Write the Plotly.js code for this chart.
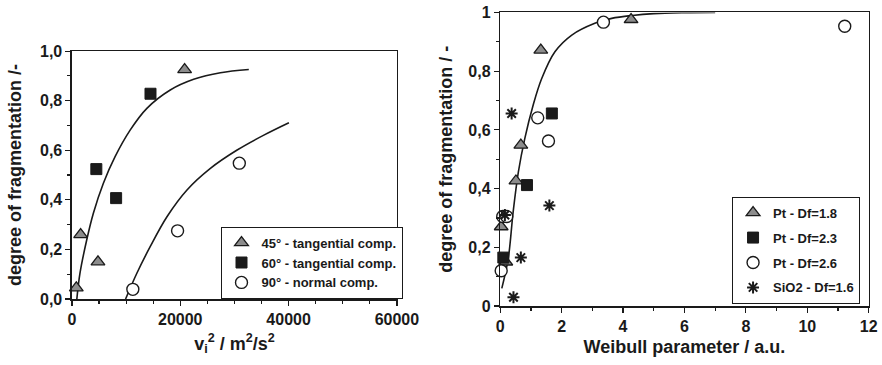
<!DOCTYPE html>
<html>
<head>
<meta charset="utf-8">
<script src="https://cdn.plot.ly/plotly-3.0.1.min.js"></script>
<style>html,body{margin:0;padding:0;background:#fff;}#chart{width:882px;height:365px;}</style>
</head>
<body>
<div id="chart"></div>
<script>
// ---- Left panel data (v_i^2 in m2/s2, degree of fragmentation) ----
const leftNames = ["45° - tangential comp.", "60° - tangential comp.", "90° - normal comp."];
const deg45X = [800, 1600, 4800, 20800];
const deg45Y = [0.045, 0.26, 0.15, 0.925];
const deg60X = [4500, 8150, 14500];
const deg60Y = [0.524, 0.407, 0.828];
const deg90X = [11240, 19500, 30900];
const deg90Y = [0.039, 0.275, 0.548];
// fitted curves
const fitTanX = [900, 1480, 2720, 3950, 5800, 7960, 10740, 13830, 18150, 22470, 27410, 32650];
const fitTanY = [0.0, 0.104, 0.238, 0.346, 0.467, 0.574, 0.681, 0.769, 0.843, 0.886, 0.913, 0.926];
const fitNormX = [9900, 11980, 14440, 17540, 21240, 25560, 30500, 35430, 40060];
const fitNormY = [0.0, 0.104, 0.211, 0.332, 0.44, 0.527, 0.601, 0.661, 0.711];

// ---- Right panel data (Weibull parameter, degree of fragmentation) ----
const rightNames = ["Pt - Df=1.8", "Pt - Df=2.3", "Pt - Df=2.6", "SiO2 - Df=1.6"];
const pt18X = [0.03, 0.18, 0.51, 0.67, 1.32, 4.26];
const pt18Y = [0.27, 0.15, 0.426, 0.548, 0.872, 0.976];
const pt23X = [0.10, 0.87, 1.68];
const pt23Y = [0.165, 0.412, 0.656];
const pt26X = [0.03, 0.08, 0.21, 1.22, 1.57, 3.36, 11.22];
const pt26Y = [0.12, 0.305, 0.305, 0.641, 0.562, 0.967, 0.953];
const sio2X = [0.37, 0.43, 0.67, 1.60, 0.15];
const sio2Y = [0.656, 0.03, 0.165, 0.342, 0.31];
const fitWX = [0.05, 0.26, 0.42, 0.59, 0.80, 1.07, 1.35, 1.78, 2.33, 3.08, 3.63, 4.3, 5.0, 6.0, 7.0];
const fitWY = [0.06, 0.162, 0.321, 0.457, 0.571, 0.684, 0.775, 0.866, 0.923, 0.963, 0.98, 0.99, 0.996, 0.999, 1.0];

const FONT = "Liberation Sans, Arial, sans-serif";
const INK = "#1a1a1a";
const triM = {symbol: "triangle-up", size: 12, color: "#8c8c8c", line: {color: INK, width: 1.3}};
const sqM = {symbol: "square", size: 11, color: INK, line: {color: INK, width: 1}};
const ciM = {symbol: "circle", size: 12, color: "#ffffff", line: {color: INK, width: 1.4}};
const asM = {symbol: "asterisk-open", size: 10, color: INK, line: {color: INK, width: 2}};
const lineStyle = {color: INK, width: 1.6, shape: "spline", smoothing: 1};

function pts(x, y, name, marker, xa, ya, leg, grp) {
  return {x: x, y: y, name: name, mode: "markers", type: "scatter", marker: marker,
          xaxis: xa, yaxis: ya, legend: leg, legendgroup: grp, cliponaxis: false, hoverinfo: "x+y"};
}
function curve(x, y, xa, ya) {
  return {x: x, y: y, mode: "lines", type: "scatter", line: lineStyle, showlegend: false,
          xaxis: xa, yaxis: ya, cliponaxis: true, hoverinfo: "skip"};
}

const data = [
  curve(fitTanX, fitTanY, "x", "y"),
  curve(fitNormX, fitNormY, "x", "y"),
  pts(deg45X, deg45Y, leftNames[0], triM, "x", "y", "legend", "a"),
  pts(deg60X, deg60Y, leftNames[1], sqM, "x", "y", "legend", "b"),
  pts(deg90X, deg90Y, leftNames[2], ciM, "x", "y", "legend", "c"),
  curve(fitWX, fitWY, "x2", "y2"),
  pts(pt18X, pt18Y, rightNames[0], triM, "x2", "y2", "legend2", "d"),
  pts(pt23X, pt23Y, rightNames[1], sqM, "x2", "y2", "legend2", "e"),
  pts(pt26X, pt26Y, rightNames[2], ciM, "x2", "y2", "legend2", "f"),
  pts(sio2X, sio2Y, rightNames[3], asM, "x2", "y2", "legend2", "g")
];

const tickFont = {family: FONT, size: 16, color: "#1a1a1a", weight: "bold"};
const titleFont = {family: FONT, size: 18, color: "#1a1a1a", weight: "bold"};
function axis(extra) {
  return Object.assign({
    showline: true, mirror: true, linecolor: INK, linewidth: 1.5,
    showgrid: false, zeroline: false, ticks: "outside", ticklen: 5, tickwidth: 1.2, tickcolor: INK,
    tickfont: tickFont, fixedrange: true
  }, extra);
}

const layout = {
  width: 882, height: 365,
  margin: {l: 0, r: 0, t: 0, b: 0},
  paper_bgcolor: "#ffffff", plot_bgcolor: "#ffffff",
  separators: ",.",
  showlegend: true,
  font: {family: FONT, color: "#1a1a1a"},
  xaxis: axis({domain: [0.0816, 0.450], range: [0, 60000], dtick: 20000, tick0: 0, tickformat: "d",
    minor: {dtick: 5000, tick0: 0, ticklen: 3, ticks: "outside", tickcolor: INK},
    anchor: "y",
    title: {text: "v<sub>i</sub><sup>2</sup> / m<sup>2</sup>/s<sup>2</sup>", font: titleFont, standoff: 10}}),
  yaxis: axis({domain: [0.1808, 0.860], range: [0, 1], dtick: 0.2, tick0: 0, tickformat: ".1f",
    minor: {dtick: 0.1, tick0: 0, ticklen: 3, ticks: "outside", tickcolor: INK},
    anchor: "x",
    title: {text: "degree of fragmentation /-", font: titleFont, standoff: 13}}),
  xaxis2: axis({domain: [0.5672, 0.9849], range: [0, 12], dtick: 2, tick0: 0,
    minor: {dtick: 1, tick0: 0, ticklen: 3, ticks: "outside", tickcolor: INK},
    anchor: "y2",
    title: {text: "Weibull parameter / a.u.", font: titleFont, standoff: 6}}),
  yaxis2: axis({domain: [0.1616, 0.9658], range: [0, 1], dtick: 0.2, tick0: 0,
    minor: {dtick: 0.1, tick0: 0, ticklen: 3, ticks: "outside", tickcolor: INK},
    anchor: "x2",
    title: {text: "degree of fragmentation / -", font: titleFont, standoff: 11}}),
  legend: {x: 0.250, y: 0.379, xanchor: "left", yanchor: "top", bgcolor: "#ffffff",
    bordercolor: INK, borderwidth: 1, font: {family: FONT, size: 13, color: "#1a1a1a", weight: "bold"},
    tracegroupgap: 0, itemwidth: 30},
  legend2: {x: 0.830, y: 0.461, xanchor: "left", yanchor: "top", bgcolor: "#ffffff",
    bordercolor: INK, borderwidth: 1, font: {family: FONT, size: 13, color: "#1a1a1a", weight: "bold"},
    tracegroupgap: 5, itemwidth: 30}
};

Plotly.newPlot("chart", data, layout, {displayModeBar: false, staticPlot: true});
</script>
</body>
</html>
